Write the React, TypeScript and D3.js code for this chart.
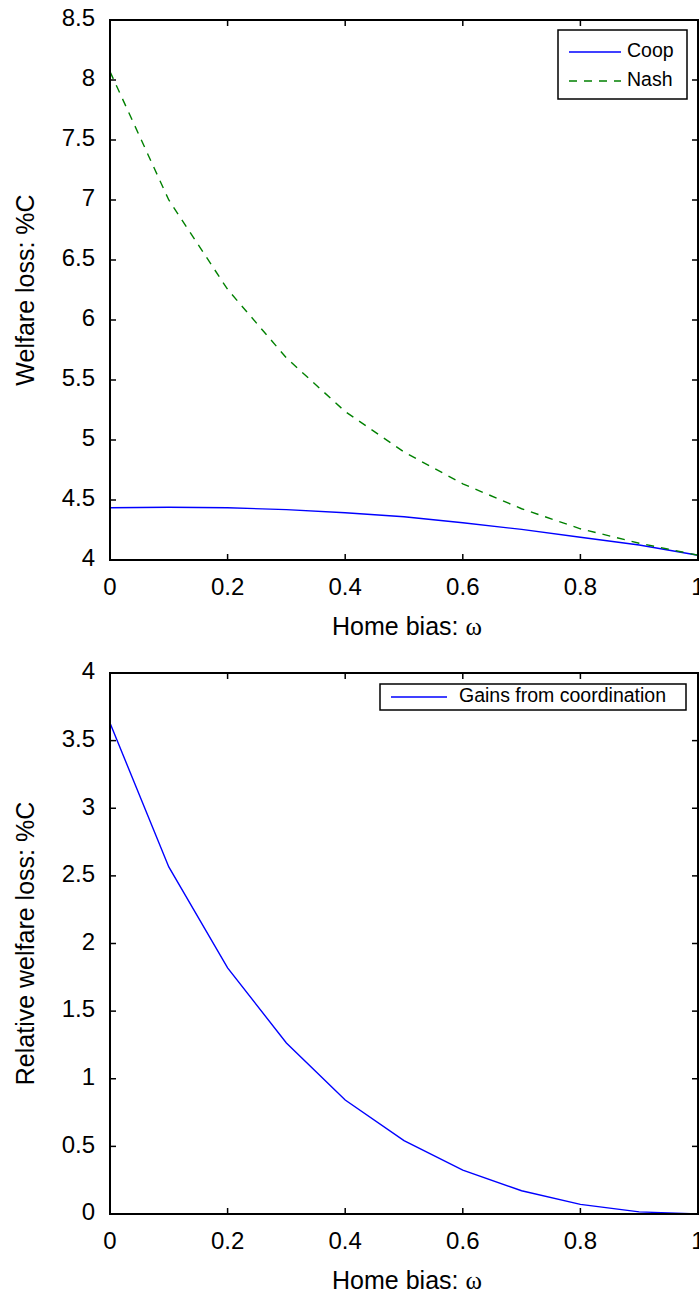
import React from "react";
import * as d3 from "d3";

// Home bias values (x)
const omega = [0, 0.1, 0.2, 0.3, 0.4, 0.5, 0.6, 0.7, 0.8, 0.9, 1.0];
// Top panel: welfare loss (%C)
const coopLoss = [4.436, 4.44, 4.435, 4.42, 4.394, 4.36, 4.31, 4.255, 4.19, 4.125, 4.04];
const nashLoss = [8.07, 7.0, 6.255, 5.684, 5.237, 4.9, 4.635, 4.427, 4.26, 4.14, 4.04];
// Bottom panel: gains from coordination (%C)
const gains = [3.63, 2.566, 1.82, 1.264, 0.843, 0.542, 0.325, 0.172, 0.071, 0.016, 0.0];

const xTicks = [0, 0.2, 0.4, 0.6, 0.8, 1];
const xTickLabels = ["0", "0.2", "0.4", "0.6", "0.8", "1"];
const topYTicks = [4, 4.5, 5, 5.5, 6, 6.5, 7, 7.5, 8, 8.5];
const bottomYTicks = [0, 0.5, 1, 1.5, 2, 2.5, 3, 3.5, 4];

const FONT = "'Liberation Sans', Arial, Helvetica, sans-serif";
const SERIF = "'Liberation Serif', 'Times New Roman', serif";

type Series = { values: number[]; color: string; dash?: string; label: string };

function Panel(props: {
  top: number;
  bottom: number;
  yDomain: [number, number];
  yTicks: number[];
  yTitle: string;
  series: Series[];
  legend: { x0: number; x1: number; y0: number; y1: number; rowYs: number[]; lineX0: number; lineX1: number; textX: number };
}) {
  const left = 110;
  const right = 698;
  const x = d3.scaleLinear().domain([0, 1]).range([left, right]);
  const y = d3.scaleLinear().domain(props.yDomain).range([props.bottom, props.top]);
  const tick = 6;
  const { legend } = props;
  return (
    <g>
      {props.series.map((s, i) => {
        const line = d3
          .line<number>()
          .x((_, j) => x(omega[j]))
          .y((v) => y(v));
        return (
          <path
            key={i}
            d={line(s.values) || ""}
            fill="none"
            stroke={s.color}
            strokeWidth={1.4}
            strokeDasharray={s.dash}
          />
        );
      })}
      <rect
        x={left}
        y={props.top}
        width={right - left}
        height={props.bottom - props.top}
        fill="none"
        stroke="#000"
        strokeWidth={2}
      />
      {xTicks.map((t, i) => (
        <g key={"xt" + i}>
          <line x1={x(t)} x2={x(t)} y1={props.bottom} y2={props.bottom - tick} stroke="#000" strokeWidth={1.5} />
          <line x1={x(t)} x2={x(t)} y1={props.top} y2={props.top + tick} stroke="#000" strokeWidth={1.5} />
          <text
            x={x(t)}
            y={props.bottom + 29}
            textAnchor="middle"
            dominantBaseline="middle"
            fontSize={24}
            fontFamily={FONT}
          >
            {xTickLabels[i]}
          </text>
        </g>
      ))}
      {props.yTicks.map((t, i) => (
        <g key={"yt" + i}>
          <line x1={left} x2={left + tick} y1={y(t)} y2={y(t)} stroke="#000" strokeWidth={1.5} />
          <line x1={right} x2={right - tick} y1={y(t)} y2={y(t)} stroke="#000" strokeWidth={1.5} />
          <text
            x={left - 15}
            y={y(t)}
            textAnchor="end"
            dominantBaseline="middle"
            fontSize={24}
            fontFamily={FONT}
          >
            {String(t)}
          </text>
        </g>
      ))}
      <text
        x={(left + right) / 2 + 3}
        y={props.bottom + 75}
        textAnchor="middle"
        fontSize={25}
        fontFamily={FONT}
      >
        Home bias: <tspan fontFamily={SERIF}>ω</tspan>
      </text>
      <text
        transform={`translate(34, ${(props.top + props.bottom) / 2}) rotate(-90)`}
        textAnchor="middle"
        fontSize={25}
        fontFamily={FONT}
      >
        {props.yTitle}
      </text>
      <rect
        x={legend.x0}
        y={legend.y0}
        width={legend.x1 - legend.x0}
        height={legend.y1 - legend.y0}
        fill="#fff"
        stroke="#000"
        strokeWidth={1.5}
      />
      {props.series.map((s, i) => (
        <g key={"lg" + i}>
          <line
            x1={legend.lineX0}
            x2={legend.lineX1}
            y1={legend.rowYs[i]}
            y2={legend.rowYs[i]}
            stroke={s.color}
            strokeWidth={1.4}
            strokeDasharray={s.dash}
          />
          <text
            x={legend.textX}
            y={legend.rowYs[i]}
            dominantBaseline="middle"
            fontSize={19.5}
            fontFamily={FONT}
          >
            {s.label}
          </text>
        </g>
      ))}
    </g>
  );
}

export default function App() {
  return (
    <svg
      width={699}
      height={1297}
      style={{ position: "absolute", left: 0, top: 0, background: "#fff" }}
    >
      <rect x={0} y={0} width={699} height={1297} fill="#fff" />
      <Panel
        top={20}
        bottom={560}
        yDomain={[4, 8.5]}
        yTicks={topYTicks}
        yTitle="Welfare loss: %C"
        series={[
          { values: coopLoss, color: "#0000ff", label: "Coop" },
          { values: nashLoss, color: "#008000", dash: "8,7", label: "Nash" },
        ]}
        legend={{ x0: 558, x1: 687, y0: 30, y1: 99, rowYs: [52, 81], lineX0: 569, lineX1: 621, textX: 627 }}
      />
      <Panel
        top={673}
        bottom={1214}
        yDomain={[0, 4]}
        yTicks={bottomYTicks}
        yTitle="Relative welfare loss: %C"
        series={[{ values: gains, color: "#0000ff", label: "Gains from coordination" }]}
        legend={{ x0: 380, x1: 686, y0: 684, y1: 710, rowYs: [697], lineX0: 391, lineX1: 447, textX: 459 }}
      />
    </svg>
  );
}
